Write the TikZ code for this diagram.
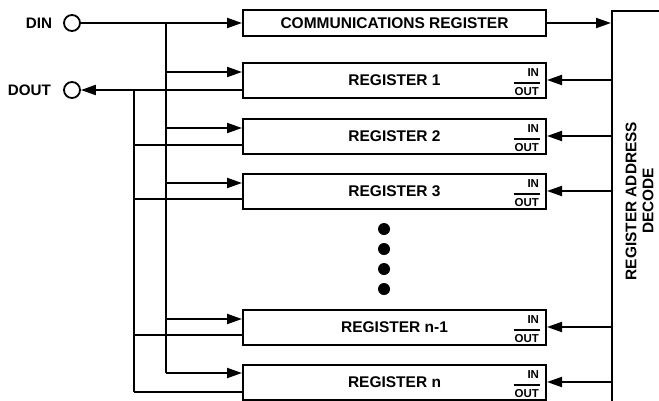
\documentclass[tikz,border=0pt]{standalone}
\usepackage{fontspec}
\setmainfont{Liberation Sans}
\usetikzlibrary{arrows.meta,calc}
\newcommand\ioLabel[1]{%
  \node[io,anchor=base east] (#1in) at ($(#1.east)+(-7,4.5)$) {IN};
  \node[io,anchor=base east] (#1out) at ($(#1.east)+(-7,-14.5)$) {OUT};
  \coordinate (#1ln) at ($(#1.east)+(0,-2.5)$);
  \draw[line width=1.4pt] (#1out.west |- #1ln) -- (#1out.east |- #1ln);
}
\begin{document}
\begin{tikzpicture}[x=1pt,y=1pt,line width=2pt,
  arr/.style={-{Triangle[length=15pt,width=10pt]}},
  reg/.style={draw,rectangle,minimum width=303pt,minimum height=35pt,inner sep=0pt,
    font=\fontsize{15.5}{18}\selectfont\bfseries},
  pin/.style={draw,circle,minimum size=16pt,inner sep=0pt,line width=1.8pt},
  lbl/.style={font=\fontsize{15.2}{18}\selectfont\bfseries,anchor=east,inner sep=0pt},
  io/.style={font=\fontsize{11.5}{12}\selectfont\bfseries,inner sep=0pt},
  bigdot/.style={circle,fill,minimum size=12pt,inner sep=0pt}]
\useasboundingbox (0,0) rectangle (659,-400);
\clip (0,0) rectangle (659,-400);

% pins and labels
\node[pin] (din) at (72,-23) {};
\node[pin] (dout) at (72,-90) {};
\node[lbl] (dinl) at (53,-23) {DIN};
\node[lbl] (doutl) at (52,-90) {DOUT};

% registers
\node[reg,minimum height=26pt] (comm) at (394.5,-23) {COMMUNICATIONS REGISTER};
\node[reg] (r1) at (394.5,-80.5) {REGISTER 1};
\node[reg] (r2) at (394.5,-136.5) {REGISTER 2};
\node[reg] (r3) at (394.5,-191.5) {REGISTER 3};
\node[reg] (r4) at (394.5,-327.5) {REGISTER n-1};
\node[reg] (r5) at (394.5,-382.5) {REGISTER n};
\ioLabel{r1}
\ioLabel{r2}
\ioLabel{r3}
\ioLabel{r4}
\ioLabel{r5}

% dots
\node[bigdot] (d1) at (384,-229) {};
\node[bigdot] (d2) at (384,-249) {};
\node[bigdot] (d3) at (384,-269) {};
\node[bigdot] (d4) at (384,-289) {};

% decode block
\node[draw,rectangle,minimum width=90pt,minimum height=420pt,anchor=north west,inner sep=0pt] (dec) at (611,-10) {};
\node[rotate=90,align=center,inner sep=0pt,font=\fontsize{15.4}{17}\selectfont\bfseries] (dect) at (639.5,-201) {REGISTER ADDRESS\\DECODE};

% input bus
\coordinate (bustop) at (166,-23);
\coordinate (in1) at (166,-72);
\coordinate (in2) at (166,-128);
\coordinate (in3) at (166,-183);
\coordinate (in4) at (166,-319);
\coordinate (in5) at (166,-373);
\draw[arr] (din.east) -- (comm.west);
\draw (bustop) -- (in5);
\foreach \i in {1,2,3,4,5} {
  \draw[arr] (in\i) -- (in\i -| r\i.west);
}

% output bus
\coordinate (out1) at (134,-90);
\coordinate (out2) at (134,-145);
\coordinate (out3) at (134,-199);
\coordinate (out4) at (134,-335);
\coordinate (out5) at (134,-392);
\draw[arr] (r1.west |- dout) -- (dout.east);
\draw (out1) -- (out5);
\foreach \i in {2,3,4,5} {
  \draw (out\i) -- (out\i -| r\i.west);
}

% decode connections
\draw[arr] (comm.east) -- (dec.west |- comm.east);
\foreach \i in {1,2,3,4,5} {
  \coordinate (a\i) at ($(r\i.east)+(0,0.5)$);
  \draw[arr] (dec.west |- a\i) -- (a\i);
}
\end{tikzpicture}
\end{document}
